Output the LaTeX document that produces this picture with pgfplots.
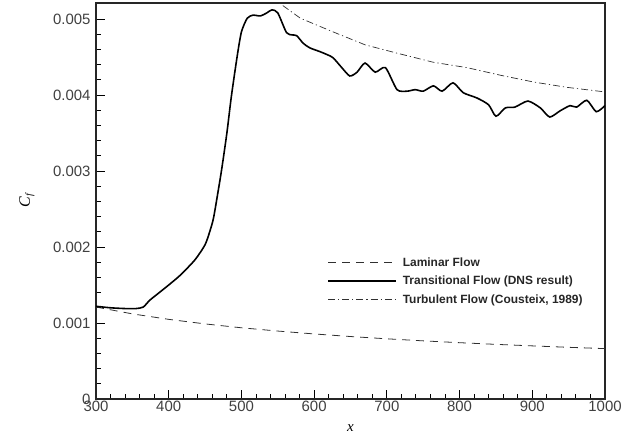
\documentclass[border=0pt]{standalone}
\usepackage{fontspec}
\setmainfont{Liberation Sans}
\newfontfamily\tnr{Liberation Serif}
\usepackage{pgfplots}
\pgfplotsset{compat=1.18}
\definecolor{tickgray}{HTML}{404040}
\definecolor{linegray}{HTML}{303030}
\begin{document}
\begin{tikzpicture}
\begin{axis}[
  name=ax,
  scale only axis,
  width=509bp, height=396bp,
  xmin=300, xmax=1000,
  ymin=0, ymax=0.00521,
  xtick={300,400,...,1000},
  ytick={0,0.001,0.002,0.003,0.004,0.005},
  yticklabels={0,0.001,0.002,0.003,0.004,0.005},
  scaled y ticks=false,
  /pgf/number format/1000 sep={},
  minor x tick num=4,
  minor y tick num=4,
  tick pos=left,
  tick align=inside,
  major tick length=9bp,
  minor tick length=5bp,
  every tick/.style={black, line width=0.9pt},
  axis line style={line width=1.1pt, black!85},
  /pgf/number format/assume math mode=true,
  tick label style={font=\fontsize{15}{17}\selectfont, text=tickgray},
  yticklabel style={xshift=-2bp},
  xticklabel style={yshift=1bp},
  xlabel={\tnr\itshape x},
  xlabel style={at={(rel axis cs:0.5,-0.0732)}, anchor=center, font=\fontsize{15}{17}\selectfont},
  ylabel={\tnr\itshape C\kern0.5pt\raisebox{-0.35ex}{\fontsize{10}{11}\selectfont f}},
  ylabel style={at={(rel axis cs:-0.1356,0.5)}, anchor=center, font=\fontsize{16}{18}\selectfont},
  clip=true,
  legend style={at={(rel axis cs:0.448,0.368)}, anchor=north west, draw=none, fill=none,
     font=\bfseries\fontsize{12}{14}\selectfont, text=black!85, row sep=4.5bp,
     /tikz/every even column/.append style={column sep=10bp}},
  legend cell align=left,
  legend image code/.code={\draw[#1] (0bp,0bp) -- (68bp,0bp);},
  legend style={nodes={inner xsep=6bp}},
]
\addplot[linegray, line width=0.8pt, dash pattern=on 8bp off 6bp] coordinates {
(300,0.001210) (350,0.001120) (400,0.001048) (450,0.000988) (500,0.000937)
(550,0.000894) (600,0.000856) (650,0.000822) (700,0.000792) (750,0.000765)
(800,0.000741) (850,0.000719) (900,0.000699) (950,0.000680) (1000,0.000663)
};
\addlegendentry{Laminar Flow}
\addplot[black, line width=1.6pt, smooth, tension=0.4] coordinates {
(300,0.00122) (320,0.00120) (340,0.00119) (355,0.00119) (365,0.00121)
(374,0.00130) (387,0.00140) (400,0.00150) (416,0.00163) (436,0.00183)
(450,0.00203) (457,0.00222) (462,0.00240) (472,0.00297) (480,0.00350)
(486,0.00397) (494,0.00450) (500,0.00483) (508,0.00501) (516,0.00505)
(526,0.00504) (535,0.00508) (542,0.00512) (550,0.00508) (562,0.00482)
(570,0.00479) (576,0.00478) (585,0.00468) (594,0.00462) (608,0.00457)
(618,0.00453) (626,0.00449) (638,0.00436) (649,0.00425) (659,0.00430)
(670,0.00442) (684,0.00430) (698,0.00436) (714,0.00407) (728,0.00405)
(739,0.00407) (750,0.00405) (764,0.00412) (776,0.00405) (791,0.00416)
(805,0.00403) (824,0.00396) (840,0.00387) (850,0.00372) (863,0.00383)
(876,0.00384) (894,0.00392) (911,0.00383) (924,0.00371) (938,0.00379)
(952,0.00386) (961,0.00384) (975,0.00393) (988,0.00378) (1000,0.00386)
};
\addlegendentry{Transitional Flow (DNS result)}
\addplot[linegray, line width=0.7pt, dash pattern=on 7bp off 3bp on 1.2bp off 3bp] coordinates {
(540,0.00527) (552,0.00521) (581,0.00501) (626,0.00483) (670,0.00466)
(714,0.00455) (764,0.00443) (810,0.00436) (856,0.00426) (902,0.00417)
(948,0.00410) (1000,0.00404)
};
\addlegendentry{Turbulent Flow (Cousteix, 1989)}
\end{axis}
\pgfresetboundingbox
\path ([shift={(-96bp,-39bp)}]ax.south west) rectangle ([shift={(18bp,3bp)}]ax.north east);
\end{tikzpicture}
\end{document}
